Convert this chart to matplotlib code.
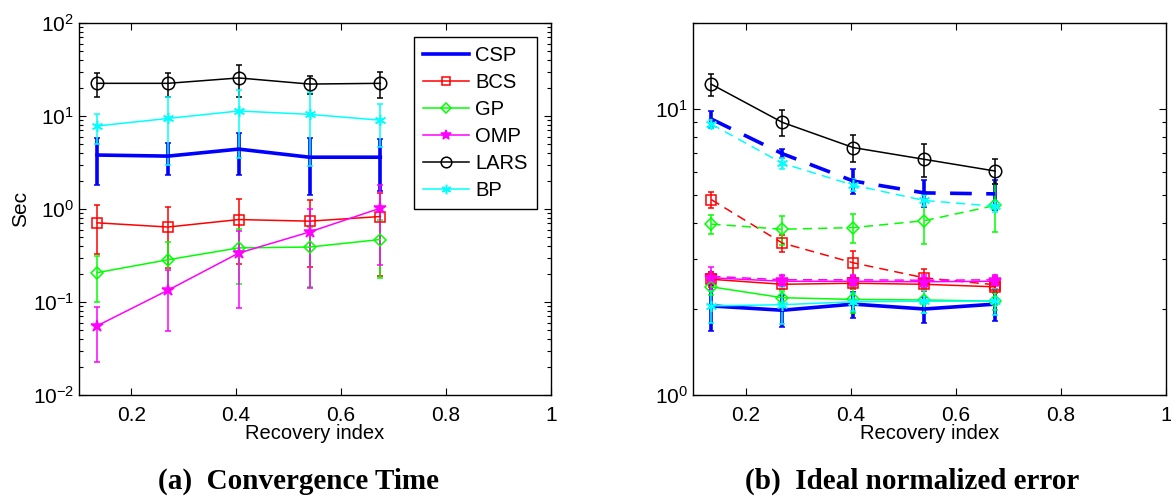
import matplotlib
matplotlib.use("Agg")
import matplotlib.pyplot as plt
from matplotlib.lines import Line2D
from matplotlib.ticker import LogLocator, NullFormatter

plt.rcParams["font.family"] = ["Liberation Sans", "DejaVu Sans"]
plt.rcParams["mathtext.default"] = "regular"

# recovery index at which each method was evaluated
recovery = [0.135, 0.27, 0.405, 0.54, 0.675]

methods = ["CSP", "BCS", "GP", "OMP", "LARS", "BP"]

# (a) convergence time in seconds: mean and spread
time_mean = {
    "CSP": [3.8, 3.7, 4.4, 3.6, 3.6],
    "BCS": [0.71, 0.64, 0.77, 0.74, 0.83],
    "GP": [0.207, 0.285, 0.382, 0.39, 0.47],
    "OMP": [0.0556, 0.134, 0.336, 0.566, 1.02],
    "LARS": [22.4, 22.4, 25.6, 22.0, 22.4],
    "BP": [7.8, 9.4, 11.3, 10.4, 9.0],
}
time_err = {
    "CSP": [2.0, 1.4, 2.1, 2.2, 2.05],
    "BCS": [0.385, 0.41, 0.515, 0.5, 0.64],
    "GP": [0.107, 0.155, 0.225, 0.245, 0.29],
    "OMP": [0.033, 0.085, 0.25, 0.425, 0.77],
    "LARS": [6.6, 6.6, 9.5, 4.8, 7.0],
    "BP": [2.8, 6.4, 7.8, 7.5, 4.4],
}

# (b) ideal normalized error, solid curves
err_mean = {
    "CSP": [2.05, 1.98, 2.08, 2.0, 2.08],
    "BCS": [2.54, 2.44, 2.46, 2.44, 2.39],
    "GP": [2.39, 2.19, 2.16, 2.15, 2.13],
    "OMP": [2.57, 2.5, 2.5, 2.49, 2.5],
    "LARS": [12.2, 8.98, 7.33, 6.67, 6.07],
    "BP": [2.05, 2.07, 2.12, 2.13, 2.13],
}
err_spread = {
    "CSP": [0.37, 0.25, 0.22, 0.21, 0.26],
    "BCS": [0.15, 0.1, 0.12, 0.12, 0.12],
    "GP": [0.15, 0.12, 0.23, 0.22, 0.15],
    "OMP": [0.24, 0.1, 0.1, 0.1, 0.1],
    "LARS": [1.1, 0.95, 0.8, 0.9, 0.6],
    "BP": [0.27, 0.3, 0.15, 0.2, 0.22],
}

# (b) dashed curves
dash_mean = {
    "CSP": [9.22, 6.98, 5.6, 5.09, 5.05],
    "BCS": [4.82, 3.4, 2.9, 2.57, 2.43],
    "GP": [3.96, 3.8, 3.85, 4.07, 4.6],
    "OMP": [2.6, 2.53, 2.53, 2.52, 2.53],
    "BP": [8.85, 6.46, 5.42, 4.79, 4.57],
}
dash_spread = {
    "CSP": [0.65, 0.25, 0.55, 0.55, 0.6],
    "BCS": [0.3, 0.23, 0.3, 0.2, 0.15],
    "GP": [0.31, 0.44, 0.46, 0.7, 0.87],
    "OMP": [0.1, 0.1, 0.1, 0.1, 0.1],
    "BP": [0.3, 0.3, 0.25, 0.2, 0.2],
}

style = {
    "CSP": dict(color=(0, 0, 1), marker="none", lw=2.6, ms=0, mfc="none"),
    "BCS": dict(color=(1, 0, 0), marker="s", lw=1.1, ms=7, mfc="none"),
    "GP": dict(color=(0, 1, 0), marker="D", lw=1.1, ms=6, mfc="none"),
    "OMP": dict(color=(1, 0, 1), marker="*", lw=1.1, ms=9, mfc=(1, 0, 1)),
    "LARS": dict(color=(0, 0, 0), marker="o", lw=1.1, ms=9, mfc="none"),
    "BP": dict(color=(0, 1, 1), marker=(6, 2, 0), lw=1.1, ms=8, mfc="none"),
}


def draw(ax, mean, spread, ls):
    for m in methods:
        if m not in mean:
            continue
        st = style[m]
        ax.errorbar(
            recovery, mean[m], yerr=spread[m],
            color=st["color"], lw=st["lw"], ls=ls,
            marker=st["marker"], ms=st["ms"],
            mfc=st["mfc"], mec=st["color"], mew=1.1,
            elinewidth=st["lw"], capsize=2.5, capthick=st["lw"],
            dashes=(6, 4) if ls == "--" else (None, None),
        )


def style_axes(ax, ylim):
    ax.set_yscale("log")
    ax.set_xlim(0.1, 1.0)
    ax.set_ylim(*ylim)
    ax.set_xticks([0.2, 0.4, 0.6, 0.8, 1.0])
    ax.set_xticklabels(["0.2", "0.4", "0.6", "0.8", "1"])
    ax.yaxis.set_minor_locator(LogLocator(base=10, subs=range(2, 10)))
    ax.yaxis.set_minor_formatter(NullFormatter())
    ax.tick_params(which="both", direction="in", top=True, right=True,
                   labelsize=15, width=0.8)
    ax.tick_params(which="major", length=5)
    ax.tick_params(which="minor", length=3)
    ax.tick_params(axis="x", pad=8)
    for s in ax.spines.values():
        s.set_linewidth(1.0)
    ax.set_xlabel("Recovery index", fontsize=14.5, labelpad=-1)


fig = plt.figure(figsize=(11.71, 4.97), dpi=100)
ax1 = fig.add_axes([0.0673, 0.205, 0.403, 0.749])
ax2 = fig.add_axes([0.5918, 0.205, 0.4039, 0.749])

draw(ax1, time_mean, time_err, "-")
style_axes(ax1, (1e-2, 1e2))
ax1.set_ylabel("Sec", fontsize=15, labelpad=2)

handles = [
    Line2D([], [], color=style[m]["color"], lw=style[m]["lw"],
           marker=style[m]["marker"], ms=style[m]["ms"] * 0.85,
           mfc=style[m]["mfc"], mec=style[m]["color"], mew=1.1)
    for m in methods
]
leg = ax1.legend(handles, methods, loc="upper right",
                 bbox_to_anchor=(0.97, 0.962), borderaxespad=0,
                 fontsize=14.5, handlelength=2.3, labelspacing=0.4,
                 fancybox=False, framealpha=1, edgecolor="black",
                 borderpad=0.45, handletextpad=0.3)
leg.get_frame().set_linewidth(1.0)

draw(ax2, dash_mean, dash_spread, "--")
draw(ax2, err_mean, err_spread, "-")
style_axes(ax2, (1, 20))

fig.text(0.255, 0.032, "(a)  Convergence Time", ha="center", va="center",
         fontsize=21, fontweight="bold", family="Liberation Serif")
fig.text(0.779, 0.032, "(b)  Ideal normalized error", ha="center", va="center",
         fontsize=21, fontweight="bold", family="Liberation Serif")

fig.savefig("out.png", dpi=100)
